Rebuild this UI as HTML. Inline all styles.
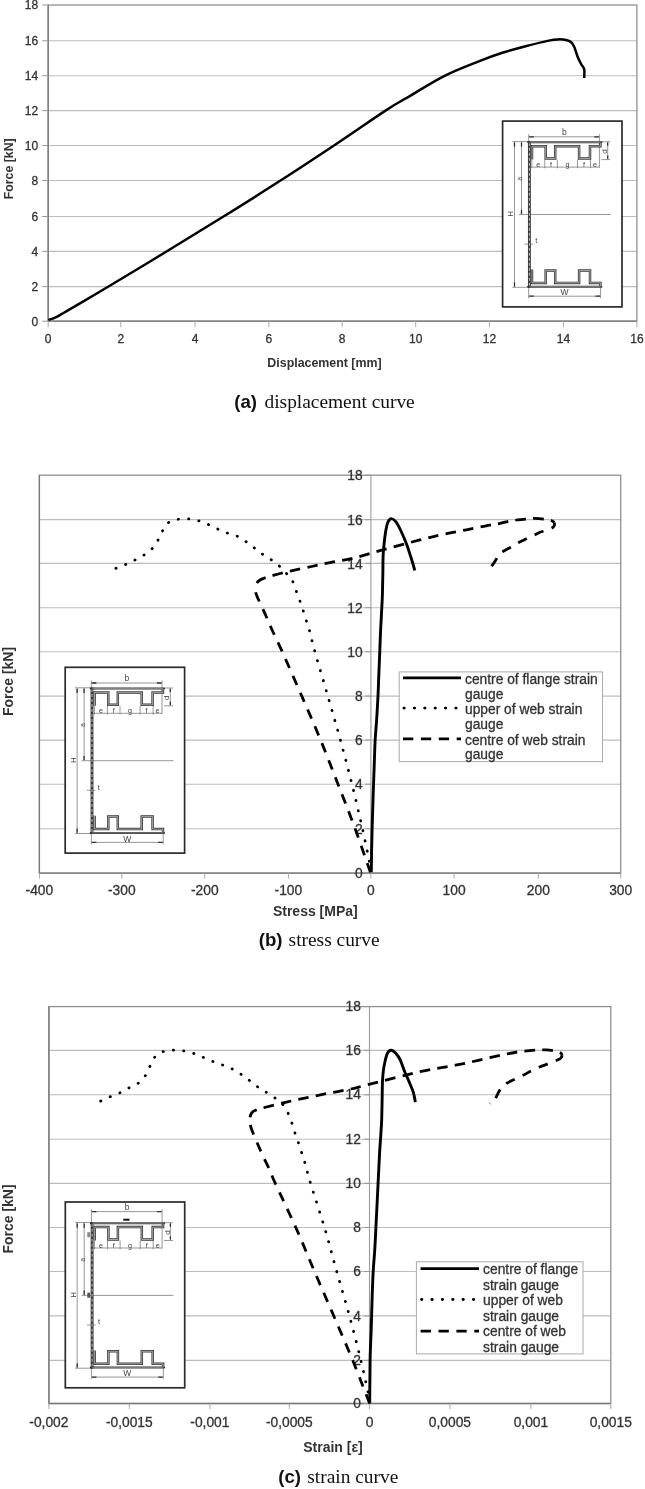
<!DOCTYPE html>
<html><head><meta charset="utf-8"><style>
html,body{margin:0;padding:0;background:#fff;}
svg{display:block;will-change:transform;}
</style></head><body>
<svg width="645" height="1489" viewBox="0 0 645 1489">
<rect width="645" height="1489" fill="#fff"/>
<line x1="48.2" y1="286.6" x2="636.9" y2="286.6" stroke="#bcbcbc" stroke-width="1.1"/>
<line x1="48.2" y1="251.4" x2="636.9" y2="251.4" stroke="#bcbcbc" stroke-width="1.1"/>
<line x1="48.2" y1="216.5" x2="636.9" y2="216.5" stroke="#bcbcbc" stroke-width="1.1"/>
<line x1="48.2" y1="180.5" x2="636.9" y2="180.5" stroke="#bcbcbc" stroke-width="1.1"/>
<line x1="48.2" y1="145.5" x2="636.9" y2="145.5" stroke="#bcbcbc" stroke-width="1.1"/>
<line x1="48.2" y1="110.6" x2="636.9" y2="110.6" stroke="#bcbcbc" stroke-width="1.1"/>
<line x1="48.2" y1="75.7" x2="636.9" y2="75.7" stroke="#bcbcbc" stroke-width="1.1"/>
<line x1="48.2" y1="40.8" x2="636.9" y2="40.8" stroke="#bcbcbc" stroke-width="1.1"/>
<rect x="48.2" y="5.0" width="588.7" height="316.2" fill="none" stroke="#909090" stroke-width="1.3"/>
<path d="M48.2,5.0 V321.2 H636.9" fill="none" stroke="#7a7a7a" stroke-width="1.3"/>
<line x1="48.2" y1="321.2" x2="48.2" y2="327.2" stroke="#aaa" stroke-width="1"/>
<text x="48.2" y="342.5" font-family="Liberation Sans" font-size="12" font-weight="normal" text-anchor="middle" fill="#333" stroke="#333" stroke-width="0.3" >0</text>
<line x1="120.8" y1="321.2" x2="120.8" y2="327.2" stroke="#aaa" stroke-width="1"/>
<text x="120.8" y="342.5" font-family="Liberation Sans" font-size="12" font-weight="normal" text-anchor="middle" fill="#333" stroke="#333" stroke-width="0.3" >2</text>
<line x1="195.0" y1="321.2" x2="195.0" y2="327.2" stroke="#aaa" stroke-width="1"/>
<text x="195.0" y="342.5" font-family="Liberation Sans" font-size="12" font-weight="normal" text-anchor="middle" fill="#333" stroke="#333" stroke-width="0.3" >4</text>
<line x1="268.9" y1="321.2" x2="268.9" y2="327.2" stroke="#aaa" stroke-width="1"/>
<text x="268.9" y="342.5" font-family="Liberation Sans" font-size="12" font-weight="normal" text-anchor="middle" fill="#333" stroke="#333" stroke-width="0.3" >6</text>
<line x1="342.2" y1="321.2" x2="342.2" y2="327.2" stroke="#aaa" stroke-width="1"/>
<text x="342.2" y="342.5" font-family="Liberation Sans" font-size="12" font-weight="normal" text-anchor="middle" fill="#333" stroke="#333" stroke-width="0.3" >8</text>
<line x1="415.7" y1="321.2" x2="415.7" y2="327.2" stroke="#aaa" stroke-width="1"/>
<text x="415.7" y="342.5" font-family="Liberation Sans" font-size="12" font-weight="normal" text-anchor="middle" fill="#333" stroke="#333" stroke-width="0.3" >10</text>
<line x1="489.4" y1="321.2" x2="489.4" y2="327.2" stroke="#aaa" stroke-width="1"/>
<text x="489.4" y="342.5" font-family="Liberation Sans" font-size="12" font-weight="normal" text-anchor="middle" fill="#333" stroke="#333" stroke-width="0.3" >12</text>
<line x1="563.4" y1="321.2" x2="563.4" y2="327.2" stroke="#aaa" stroke-width="1"/>
<text x="563.4" y="342.5" font-family="Liberation Sans" font-size="12" font-weight="normal" text-anchor="middle" fill="#333" stroke="#333" stroke-width="0.3" >14</text>
<line x1="636.9" y1="321.2" x2="636.9" y2="327.2" stroke="#aaa" stroke-width="1"/>
<text x="636.9" y="342.5" font-family="Liberation Sans" font-size="12" font-weight="normal" text-anchor="middle" fill="#333" stroke="#333" stroke-width="0.3" >16</text>
<line x1="42.2" y1="321.2" x2="48.2" y2="321.2" stroke="#999" stroke-width="1"/>
<text x="38.2" y="325.5" font-family="Liberation Sans" font-size="12" font-weight="normal" text-anchor="end" fill="#333" stroke="#333" stroke-width="0.3" >0</text>
<line x1="42.2" y1="286.6" x2="48.2" y2="286.6" stroke="#999" stroke-width="1"/>
<text x="38.2" y="290.9" font-family="Liberation Sans" font-size="12" font-weight="normal" text-anchor="end" fill="#333" stroke="#333" stroke-width="0.3" >2</text>
<line x1="42.2" y1="251.4" x2="48.2" y2="251.4" stroke="#999" stroke-width="1"/>
<text x="38.2" y="255.7" font-family="Liberation Sans" font-size="12" font-weight="normal" text-anchor="end" fill="#333" stroke="#333" stroke-width="0.3" >4</text>
<line x1="42.2" y1="216.5" x2="48.2" y2="216.5" stroke="#999" stroke-width="1"/>
<text x="38.2" y="220.8" font-family="Liberation Sans" font-size="12" font-weight="normal" text-anchor="end" fill="#333" stroke="#333" stroke-width="0.3" >6</text>
<line x1="42.2" y1="180.5" x2="48.2" y2="180.5" stroke="#999" stroke-width="1"/>
<text x="38.2" y="184.8" font-family="Liberation Sans" font-size="12" font-weight="normal" text-anchor="end" fill="#333" stroke="#333" stroke-width="0.3" >8</text>
<line x1="42.2" y1="145.5" x2="48.2" y2="145.5" stroke="#999" stroke-width="1"/>
<text x="38.2" y="149.8" font-family="Liberation Sans" font-size="12" font-weight="normal" text-anchor="end" fill="#333" stroke="#333" stroke-width="0.3" >10</text>
<line x1="42.2" y1="110.6" x2="48.2" y2="110.6" stroke="#999" stroke-width="1"/>
<text x="38.2" y="114.9" font-family="Liberation Sans" font-size="12" font-weight="normal" text-anchor="end" fill="#333" stroke="#333" stroke-width="0.3" >12</text>
<line x1="42.2" y1="75.7" x2="48.2" y2="75.7" stroke="#999" stroke-width="1"/>
<text x="38.2" y="80.0" font-family="Liberation Sans" font-size="12" font-weight="normal" text-anchor="end" fill="#333" stroke="#333" stroke-width="0.3" >14</text>
<line x1="42.2" y1="40.8" x2="48.2" y2="40.8" stroke="#999" stroke-width="1"/>
<text x="38.2" y="45.1" font-family="Liberation Sans" font-size="12" font-weight="normal" text-anchor="end" fill="#333" stroke="#333" stroke-width="0.3" >16</text>
<line x1="42.2" y1="5.0" x2="48.2" y2="5.0" stroke="#999" stroke-width="1"/>
<text x="38.2" y="9.3" font-family="Liberation Sans" font-size="12" font-weight="normal" text-anchor="end" fill="#333" stroke="#333" stroke-width="0.3" >18</text>
<text x="324.5" y="367.2" font-family="Liberation Sans" font-size="12.4" font-weight="bold" text-anchor="middle" fill="#333" >Displacement [mm]</text>
<text x="0.0" y="0.0" font-family="Liberation Sans" font-size="12.3" font-weight="bold" text-anchor="middle" fill="#333" transform="translate(12.8,168.8) rotate(-90)">Force [kN]</text>
<path d="M48.4,319.9 C49.0,319.7 50.6,319.4 52.0,318.9 C53.4,318.4 55.1,317.7 56.7,316.9 C58.3,316.1 59.6,315.3 61.5,314.2 C63.4,313.1 65.0,312.1 67.9,310.4 C70.8,308.7 72.3,307.9 79.1,303.9 C85.9,299.9 94.2,295.1 108.9,286.3 C123.6,277.5 148.1,262.7 167.3,251.0 C186.5,239.3 205.5,227.7 224.3,216.0 C243.1,204.3 261.8,192.6 280.1,180.8 C298.4,169.1 316.4,157.2 334.0,145.5 C351.6,133.8 372.7,119.0 385.5,110.6 C398.3,102.2 401.1,101.1 411.0,95.3 C420.9,89.5 433.6,81.3 445.1,75.6 C456.6,69.9 470.5,64.7 480.0,60.9 C489.5,57.1 494.6,55.3 502.3,52.8 C510.1,50.3 518.8,48.0 526.5,46.0 C534.2,44.0 543.5,41.7 548.8,40.6 C554.1,39.5 555.2,39.5 558.1,39.4 C561.0,39.3 563.8,39.5 566.0,40.0 C568.2,40.5 569.8,41.1 571.2,42.3 C572.6,43.5 573.2,44.5 574.3,47.0 C575.4,49.5 576.5,54.1 577.7,57.0 C578.9,59.9 580.3,62.5 581.4,64.5 C582.5,66.5 583.7,67.0 584.2,69.3 C584.7,71.5 584.2,76.5 584.2,78.0" fill="none" stroke="#000" stroke-width="2.5" stroke-linejoin="round" stroke-linecap="butt"/>
<g transform="translate(501.8,120.3)">
<rect x="0.8" y="0.8" width="119.4" height="185.8" fill="#fff" stroke="#2a2a2a" stroke-width="1.7"/>
<path d="M26.9,16.5 H97.6 M26.9,14.0 V21 M97.6,14.0 V47.5" stroke="#6a6a6a" stroke-width="0.7" fill="none"/>
<path d="M105.9,21.7 V39 M99.5,21.5 H108.5 M99.5,39.3 H108.5" stroke="#6a6a6a" stroke-width="0.7" fill="none"/>
<path d="M29.5,46.8 H97.6 M43,39.5 V48 M55.6,39.5 V48 M75.7,39.5 V48 M88.7,39.5 V48 M30,39.5 V48" stroke="#6a6a6a" stroke-width="0.7" fill="none"/>
<path d="M19.7,21.5 V94.2 M12.7,21.5 V167 M10.5,21.3 H27 M10.5,167 H27 M17.2,94.2 H109" stroke="#6a6a6a" stroke-width="0.7" fill="none"/>
<path d="M26.9,175.9 H98.8 M26.9,167 V178 M98.8,167 V178 M22.5,123.8 H31.1" stroke="#6a6a6a" stroke-width="0.7" fill="none"/>
<path d="M27.5,16.5 H32 M97,16.5 H92.5 M27.5,175.9 H32 M98.2,175.9 H93.7 M19.7,22.3 V26.5 M19.7,93.6 V89.4 M12.7,22.3 V26.5 M12.7,166.3 V162 M105.9,22.3 V25.5 M105.9,38.4 V35.2" stroke="#333" stroke-width="1.3" fill="none"/>
<path d="M27.6,21 V167.4" fill="none" stroke="#3a3a3a" stroke-width="2.9"/>
<path d="M27.6,22.5 V166" fill="none" stroke="#c8c8c8" stroke-width="0.9" stroke-dasharray="3 2"/>
<path d="M26.3,22.0 H99.6" fill="none" stroke="#333" stroke-width="2.0" stroke-linecap="round"/>
<path d="M28,22.0 H98.8" fill="none" stroke="#b8b8b8" stroke-width="0.6"/>
<path d="M26.3,166.4 H99.6" fill="none" stroke="#333" stroke-width="2.0" stroke-linecap="round"/>
<path d="M28,166.4 H98.8" fill="none" stroke="#b8b8b8" stroke-width="0.6"/>
<path d="M30.2,39.2 V25.9 H43.9 V38.3 H53.4 V25.9 H77.3 V38.3 H88.2 V25.9 H98.6 V22.5" fill="none" stroke="#383838" stroke-width="2.5" stroke-linejoin="miter"/>
<path d="M30.2,39.2 V25.9 H43.9 V38.3 H53.4 V25.9 H77.3 V38.3 H88.2 V25.9 H98.6 V22.5" fill="none" stroke="#c4c4c4" stroke-width="0.8" stroke-linejoin="miter"/>
<path d="M30.2,149.2 V162.6 H43.9 V150.1 H53.4 V162.6 H77.3 V150.1 H88.2 V162.6 H98.6 V166" fill="none" stroke="#383838" stroke-width="2.5" stroke-linejoin="miter"/>
<path d="M30.2,149.2 V162.6 H43.9 V150.1 H53.4 V162.6 H77.3 V150.1 H88.2 V162.6 H98.6 V166" fill="none" stroke="#c4c4c4" stroke-width="0.8" stroke-linejoin="miter"/>
<text x="62.6" y="14.9" font-family="Liberation Sans" fill="#444" text-anchor="middle" font-size="8.5">b</text>
<text x="36.5" y="46.6" font-family="Liberation Sans" fill="#444" text-anchor="middle" font-size="7.2">e</text>
<text x="49.3" y="46.6" font-family="Liberation Sans" fill="#444" text-anchor="middle" font-size="7.2">f</text>
<text x="65.6" y="46.6" font-family="Liberation Sans" fill="#444" text-anchor="middle" font-size="7.2">g</text>
<text x="82.2" y="46.6" font-family="Liberation Sans" fill="#444" text-anchor="middle" font-size="7.2">f</text>
<text x="93.2" y="46.6" font-family="Liberation Sans" fill="#444" text-anchor="middle" font-size="7.2">e</text>
<text x="62.8" y="175.2" font-family="Liberation Sans" fill="#444" text-anchor="middle" font-size="8.5">W</text>
<text x="34.5" y="123" font-family="Liberation Sans" fill="#444" text-anchor="middle" font-size="7.5">t</text>
<text font-family="Liberation Sans" fill="#444" text-anchor="middle" font-size="8" transform="translate(105,31.3) rotate(-90)">d</text>
<text font-family="Liberation Sans" fill="#444" text-anchor="middle" font-size="6.5" transform="translate(20.3,58.5) rotate(-90)">a</text>
<text font-family="Liberation Sans" fill="#444" text-anchor="middle" font-size="8" transform="translate(11.2,93.6) rotate(-90)">H</text>
</g>
<text x="234.3" y="408.4" font-family="Liberation Sans" font-weight="bold" font-size="18.6" fill="#111">(a)</text>
<text x="264.5" y="408.4" font-family="Liberation Serif" font-size="19.4" fill="#111">displacement curve</text>
<line x1="39.4" y1="828.7" x2="620.7" y2="828.7" stroke="#bcbcbc" stroke-width="1.1"/>
<line x1="39.4" y1="784.2" x2="620.7" y2="784.2" stroke="#bcbcbc" stroke-width="1.1"/>
<line x1="39.4" y1="740.1" x2="620.7" y2="740.1" stroke="#bcbcbc" stroke-width="1.1"/>
<line x1="39.4" y1="696.1" x2="620.7" y2="696.1" stroke="#bcbcbc" stroke-width="1.1"/>
<line x1="39.4" y1="651.7" x2="620.7" y2="651.7" stroke="#bcbcbc" stroke-width="1.1"/>
<line x1="39.4" y1="607.7" x2="620.7" y2="607.7" stroke="#bcbcbc" stroke-width="1.1"/>
<line x1="39.4" y1="563.4" x2="620.7" y2="563.4" stroke="#bcbcbc" stroke-width="1.1"/>
<line x1="39.4" y1="519.6" x2="620.7" y2="519.6" stroke="#bcbcbc" stroke-width="1.1"/>
<rect x="39.4" y="475.2" width="581.3" height="397.9" fill="none" stroke="#909090" stroke-width="1.3"/>
<path d="M39.4,475.2 V873.1 H620.7" fill="none" stroke="#7a7a7a" stroke-width="1.3"/>
<line x1="370.9" y1="475.2" x2="370.9" y2="873.1" stroke="#9a9a9a" stroke-width="1.1"/>
<line x1="39.4" y1="873.1" x2="39.4" y2="878.6" stroke="#aaa" stroke-width="1"/>
<text x="39.4" y="894.9" font-family="Liberation Sans" font-size="13.8" font-weight="normal" text-anchor="middle" fill="#333" stroke="#333" stroke-width="0.3" >-400</text>
<line x1="121.8" y1="873.1" x2="121.8" y2="878.6" stroke="#aaa" stroke-width="1"/>
<text x="121.8" y="894.9" font-family="Liberation Sans" font-size="13.8" font-weight="normal" text-anchor="middle" fill="#333" stroke="#333" stroke-width="0.3" >-300</text>
<line x1="204.8" y1="873.1" x2="204.8" y2="878.6" stroke="#aaa" stroke-width="1"/>
<text x="204.8" y="894.9" font-family="Liberation Sans" font-size="13.8" font-weight="normal" text-anchor="middle" fill="#333" stroke="#333" stroke-width="0.3" >-200</text>
<line x1="288.4" y1="873.1" x2="288.4" y2="878.6" stroke="#aaa" stroke-width="1"/>
<text x="288.4" y="894.9" font-family="Liberation Sans" font-size="13.8" font-weight="normal" text-anchor="middle" fill="#333" stroke="#333" stroke-width="0.3" >-100</text>
<line x1="370.9" y1="873.1" x2="370.9" y2="878.6" stroke="#aaa" stroke-width="1"/>
<text x="370.9" y="894.9" font-family="Liberation Sans" font-size="13.8" font-weight="normal" text-anchor="middle" fill="#333" stroke="#333" stroke-width="0.3" >0</text>
<line x1="454.1" y1="873.1" x2="454.1" y2="878.6" stroke="#aaa" stroke-width="1"/>
<text x="454.1" y="894.9" font-family="Liberation Sans" font-size="13.8" font-weight="normal" text-anchor="middle" fill="#333" stroke="#333" stroke-width="0.3" >100</text>
<line x1="538.3" y1="873.1" x2="538.3" y2="878.6" stroke="#aaa" stroke-width="1"/>
<text x="538.3" y="894.9" font-family="Liberation Sans" font-size="13.8" font-weight="normal" text-anchor="middle" fill="#333" stroke="#333" stroke-width="0.3" >200</text>
<line x1="620.7" y1="873.1" x2="620.7" y2="878.6" stroke="#aaa" stroke-width="1"/>
<text x="620.7" y="894.9" font-family="Liberation Sans" font-size="13.8" font-weight="normal" text-anchor="middle" fill="#333" stroke="#333" stroke-width="0.3" >300</text>
<line x1="365.4" y1="873.1" x2="370.9" y2="873.1" stroke="#999" stroke-width="1"/>
<text x="362.6" y="878.3" font-family="Liberation Sans" font-size="13.8" font-weight="normal" text-anchor="end" fill="#333" stroke="#333" stroke-width="0.3" >0</text>
<line x1="365.4" y1="828.7" x2="370.9" y2="828.7" stroke="#999" stroke-width="1"/>
<text x="362.6" y="833.9" font-family="Liberation Sans" font-size="13.8" font-weight="normal" text-anchor="end" fill="#333" stroke="#333" stroke-width="0.3" >2</text>
<line x1="365.4" y1="784.2" x2="370.9" y2="784.2" stroke="#999" stroke-width="1"/>
<text x="362.6" y="789.4" font-family="Liberation Sans" font-size="13.8" font-weight="normal" text-anchor="end" fill="#333" stroke="#333" stroke-width="0.3" >4</text>
<line x1="365.4" y1="740.1" x2="370.9" y2="740.1" stroke="#999" stroke-width="1"/>
<text x="362.6" y="745.3" font-family="Liberation Sans" font-size="13.8" font-weight="normal" text-anchor="end" fill="#333" stroke="#333" stroke-width="0.3" >6</text>
<line x1="365.4" y1="696.1" x2="370.9" y2="696.1" stroke="#999" stroke-width="1"/>
<text x="362.6" y="701.3" font-family="Liberation Sans" font-size="13.8" font-weight="normal" text-anchor="end" fill="#333" stroke="#333" stroke-width="0.3" >8</text>
<line x1="365.4" y1="651.7" x2="370.9" y2="651.7" stroke="#999" stroke-width="1"/>
<text x="362.6" y="656.9" font-family="Liberation Sans" font-size="13.8" font-weight="normal" text-anchor="end" fill="#333" stroke="#333" stroke-width="0.3" >10</text>
<line x1="365.4" y1="607.7" x2="370.9" y2="607.7" stroke="#999" stroke-width="1"/>
<text x="362.6" y="612.9" font-family="Liberation Sans" font-size="13.8" font-weight="normal" text-anchor="end" fill="#333" stroke="#333" stroke-width="0.3" >12</text>
<line x1="365.4" y1="563.4" x2="370.9" y2="563.4" stroke="#999" stroke-width="1"/>
<text x="362.6" y="568.6" font-family="Liberation Sans" font-size="13.8" font-weight="normal" text-anchor="end" fill="#333" stroke="#333" stroke-width="0.3" >14</text>
<line x1="365.4" y1="519.6" x2="370.9" y2="519.6" stroke="#999" stroke-width="1"/>
<text x="362.6" y="524.8" font-family="Liberation Sans" font-size="13.8" font-weight="normal" text-anchor="end" fill="#333" stroke="#333" stroke-width="0.3" >16</text>
<line x1="365.4" y1="475.2" x2="370.9" y2="475.2" stroke="#999" stroke-width="1"/>
<text x="362.6" y="480.4" font-family="Liberation Sans" font-size="13.8" font-weight="normal" text-anchor="end" fill="#333" stroke="#333" stroke-width="0.3" >18</text>
<text x="315.3" y="916.1" font-family="Liberation Sans" font-size="14" font-weight="bold" text-anchor="middle" fill="#333" >Stress [MPa]</text>
<text x="0.0" y="0.0" font-family="Liberation Sans" font-size="14" font-weight="bold" text-anchor="middle" fill="#333" transform="translate(12.6,681.5) rotate(-90)">Force [kN]</text>
<g transform="translate(64.4,666.5)">
<rect x="0.8" y="0.8" width="119.4" height="185.8" fill="#fff" stroke="#2a2a2a" stroke-width="1.7"/>
<path d="M26.9,16.5 H97.6 M26.9,14.0 V21 M97.6,14.0 V47.5" stroke="#6a6a6a" stroke-width="0.7" fill="none"/>
<path d="M105.9,21.7 V39 M99.5,21.5 H108.5 M99.5,39.3 H108.5" stroke="#6a6a6a" stroke-width="0.7" fill="none"/>
<path d="M29.5,46.8 H97.6 M43,39.5 V48 M55.6,39.5 V48 M75.7,39.5 V48 M88.7,39.5 V48 M30,39.5 V48" stroke="#6a6a6a" stroke-width="0.7" fill="none"/>
<path d="M19.7,21.5 V94.2 M12.7,21.5 V167 M10.5,21.3 H27 M10.5,167 H27 M17.2,94.2 H109" stroke="#6a6a6a" stroke-width="0.7" fill="none"/>
<path d="M26.9,175.9 H98.8 M26.9,167 V178 M98.8,167 V178 M22.5,123.8 H31.1" stroke="#6a6a6a" stroke-width="0.7" fill="none"/>
<path d="M27.5,16.5 H32 M97,16.5 H92.5 M27.5,175.9 H32 M98.2,175.9 H93.7 M19.7,22.3 V26.5 M19.7,93.6 V89.4 M12.7,22.3 V26.5 M12.7,166.3 V162 M105.9,22.3 V25.5 M105.9,38.4 V35.2" stroke="#333" stroke-width="1.3" fill="none"/>
<path d="M27.6,21 V167.4" fill="none" stroke="#3a3a3a" stroke-width="2.9"/>
<path d="M27.6,22.5 V166" fill="none" stroke="#c8c8c8" stroke-width="0.9" stroke-dasharray="3 2"/>
<path d="M26.3,22.0 H99.6" fill="none" stroke="#333" stroke-width="2.0" stroke-linecap="round"/>
<path d="M28,22.0 H98.8" fill="none" stroke="#b8b8b8" stroke-width="0.6"/>
<path d="M26.3,166.4 H99.6" fill="none" stroke="#333" stroke-width="2.0" stroke-linecap="round"/>
<path d="M28,166.4 H98.8" fill="none" stroke="#b8b8b8" stroke-width="0.6"/>
<path d="M30.2,39.2 V25.9 H43.9 V38.3 H53.4 V25.9 H77.3 V38.3 H88.2 V25.9 H98.6 V22.5" fill="none" stroke="#383838" stroke-width="2.5" stroke-linejoin="miter"/>
<path d="M30.2,39.2 V25.9 H43.9 V38.3 H53.4 V25.9 H77.3 V38.3 H88.2 V25.9 H98.6 V22.5" fill="none" stroke="#c4c4c4" stroke-width="0.8" stroke-linejoin="miter"/>
<path d="M30.2,149.2 V162.6 H43.9 V150.1 H53.4 V162.6 H77.3 V150.1 H88.2 V162.6 H98.6 V166" fill="none" stroke="#383838" stroke-width="2.5" stroke-linejoin="miter"/>
<path d="M30.2,149.2 V162.6 H43.9 V150.1 H53.4 V162.6 H77.3 V150.1 H88.2 V162.6 H98.6 V166" fill="none" stroke="#c4c4c4" stroke-width="0.8" stroke-linejoin="miter"/>
<text x="62.6" y="14.9" font-family="Liberation Sans" fill="#444" text-anchor="middle" font-size="8.5">b</text>
<text x="36.5" y="46.6" font-family="Liberation Sans" fill="#444" text-anchor="middle" font-size="7.2">e</text>
<text x="49.3" y="46.6" font-family="Liberation Sans" fill="#444" text-anchor="middle" font-size="7.2">f</text>
<text x="65.6" y="46.6" font-family="Liberation Sans" fill="#444" text-anchor="middle" font-size="7.2">g</text>
<text x="82.2" y="46.6" font-family="Liberation Sans" fill="#444" text-anchor="middle" font-size="7.2">f</text>
<text x="93.2" y="46.6" font-family="Liberation Sans" fill="#444" text-anchor="middle" font-size="7.2">e</text>
<text x="62.8" y="175.2" font-family="Liberation Sans" fill="#444" text-anchor="middle" font-size="8.5">W</text>
<text x="34.5" y="123" font-family="Liberation Sans" fill="#444" text-anchor="middle" font-size="7.5">t</text>
<text font-family="Liberation Sans" fill="#444" text-anchor="middle" font-size="8" transform="translate(105,31.3) rotate(-90)">d</text>
<text font-family="Liberation Sans" fill="#444" text-anchor="middle" font-size="6.5" transform="translate(20.3,58.5) rotate(-90)">a</text>
<text font-family="Liberation Sans" fill="#444" text-anchor="middle" font-size="8" transform="translate(11.2,93.6) rotate(-90)">H</text>
</g>
<rect x="399.2" y="671.9" width="203.3" height="89.7" fill="#fff" stroke="#aaa" stroke-width="1"/>
<line x1="403.0" y1="677.8" x2="461.0" y2="677.8" stroke="#000" stroke-width="2.8" />
<text x="465.0" y="683.9" font-family="Liberation Sans" font-size="13.8" font-weight="normal" text-anchor="start" fill="#333" stroke="#333" stroke-width="0.3" >centre of flange strain</text>
<text x="465.0" y="698.9" font-family="Liberation Sans" font-size="13.8" font-weight="normal" text-anchor="start" fill="#333" stroke="#333" stroke-width="0.3" >gauge</text>
<line x1="403.0" y1="708.1" x2="461.0" y2="708.1" stroke="#000" stroke-width="2.8" stroke-dasharray="0.4 9.97" stroke-linecap="round" stroke-dashoffset="-0.9"/>
<text x="465.0" y="714.4" font-family="Liberation Sans" font-size="13.8" font-weight="normal" text-anchor="start" fill="#333" stroke="#333" stroke-width="0.3" >upper of web strain</text>
<text x="465.0" y="729.4" font-family="Liberation Sans" font-size="13.8" font-weight="normal" text-anchor="start" fill="#333" stroke="#333" stroke-width="0.3" >gauge</text>
<line x1="403.0" y1="738.9" x2="461.0" y2="738.9" stroke="#000" stroke-width="2.8" stroke-dasharray="10.3 7.6"/>
<text x="465.0" y="745.0" font-family="Liberation Sans" font-size="13.8" font-weight="normal" text-anchor="start" fill="#333" stroke="#333" stroke-width="0.3" >centre of web strain</text>
<text x="465.0" y="759.4" font-family="Liberation Sans" font-size="13.8" font-weight="normal" text-anchor="start" fill="#333" stroke="#333" stroke-width="0.3" >gauge</text>
<path d="M491.6,566.3 C492.5,565.0 495.6,560.2 496.7,558.4 C497.8,556.6 497.6,556.6 498.5,555.5 C499.4,554.4 500.3,553.3 502.3,551.9 C504.3,550.5 508.1,548.7 510.7,547.2 C513.3,545.7 515.1,544.4 517.7,543.0 C520.3,541.6 523.7,540.1 526.5,538.8 C529.3,537.5 532.1,536.2 534.4,535.1 C536.6,534.0 537.9,533.1 540.0,532.3 C542.1,531.5 545.0,530.9 547.0,530.2 C549.0,529.5 550.8,528.8 552.0,528.0 C553.2,527.2 553.9,526.5 554.3,525.6 C554.7,524.7 554.4,523.1 554.4,522.6" fill="none" stroke="#000" stroke-width="2.8" stroke-dasharray="9.6 8.6" stroke-dashoffset="0" stroke-linejoin="round"/>
<path d="M370.4,872.3 C367.8,864.9 360.3,842.8 354.9,828.1 C349.5,813.5 343.8,799.1 338.1,784.4 C332.4,769.7 326.5,754.5 320.5,739.8 C314.5,725.1 308.3,711.1 301.9,696.4 C295.5,681.7 287.3,662.9 282.3,651.8 C277.3,640.7 274.8,636.0 272.1,630.0 C269.4,624.0 268.5,621.7 266.0,616.0 C263.5,610.3 258.7,600.6 256.9,596.0 C255.1,591.4 255.3,589.8 255.0,588.5" fill="none" stroke="#000" stroke-width="2.8" stroke-dasharray="9.9 8.4" stroke-dashoffset="0" stroke-linejoin="round"/>
<path d="M255.0,588.5 C255.2,587.6 255.7,584.7 256.5,583.3 C257.3,581.9 258.7,580.9 260.0,580.0 C261.3,579.1 262.8,578.6 264.5,578.0 C266.2,577.4 267.8,577.0 270.4,576.2 C273.0,575.5 276.8,574.3 280.0,573.5 C283.2,572.7 284.6,572.4 289.9,571.2 C295.2,570.0 304.7,568.0 311.6,566.5 C318.5,565.0 324.3,563.8 331.2,562.4 C338.1,561.0 344.8,560.3 352.9,558.3 C361.0,556.3 368.8,553.7 380.0,550.6 C391.2,547.5 409.4,542.6 420.0,539.9 C430.6,537.2 435.6,536.0 443.3,534.3 C451.1,532.6 458.8,531.3 466.5,529.8 C474.2,528.3 484.4,526.1 489.8,525.1 C495.2,524.1 496.0,524.3 499.2,523.6 C502.4,522.9 506.2,521.7 509.2,521.1 C512.2,520.5 514.2,520.2 517.2,519.9 C520.2,519.5 523.9,519.2 526.9,519.0 C529.9,518.8 532.1,518.4 535.2,518.4 C538.3,518.4 542.8,518.9 545.5,519.3 C548.2,519.6 549.8,520.0 551.3,520.5 C552.8,521.0 553.9,522.2 554.4,522.6" fill="none" stroke="#000" stroke-width="2.8" stroke-dasharray="10.5 7.3" stroke-dashoffset="11.951710991622079" stroke-linejoin="round"/>
<path d="M114.0,569.1 C115.7,568.4 121.0,566.5 124.2,565.1 C127.5,563.7 130.4,562.3 133.5,560.8 C136.6,559.2 139.9,557.7 142.8,555.8 C145.8,553.9 148.8,552.0 151.2,549.6 C153.6,547.2 155.6,544.2 157.4,541.2 C159.2,538.2 160.3,534.9 162.0,531.9 C163.7,528.9 165.1,525.4 167.6,523.3 C170.1,521.2 173.6,520.2 176.9,519.5 C180.2,518.8 184.0,518.6 187.4,518.8 C190.8,519.0 194.3,519.6 197.6,520.5 C200.9,521.4 204.1,522.6 207.3,524.0 C210.5,525.4 213.6,527.1 216.8,528.6 C220.0,530.1 223.1,531.5 226.3,532.7 C229.5,533.9 233.1,534.3 236.2,535.7 C239.3,537.1 242.2,539.1 245.1,541.0 C248.0,542.9 250.7,545.2 253.4,547.2 C256.1,549.2 258.4,551.3 261.2,553.3 C263.9,555.2 267.0,556.9 269.9,558.9 C272.8,560.9 275.7,562.8 278.3,565.1 C280.9,567.4 283.2,570.0 285.5,572.5 C287.8,575.0 290.4,577.2 292.1,580.2 C293.9,583.2 294.7,587.0 296.0,590.4 C297.3,593.8 298.5,597.0 299.7,600.3 C300.9,603.6 301.9,606.8 303.0,610.1 C304.1,613.4 305.1,617.0 306.2,620.3 C307.2,623.6 307.9,624.8 309.3,630.0 C310.8,635.2 311.8,640.7 314.9,651.8 C318.0,662.9 323.7,681.7 327.9,696.4 C332.1,711.1 336.3,725.1 340.3,739.8 C344.3,754.5 348.3,769.7 352.0,784.4 C355.7,799.1 359.2,814.5 362.3,828.1 C365.4,841.8 369.0,859.9 370.4,866.3" fill="none" stroke="#000" stroke-width="2.75" stroke-dasharray="0.3 10.05" stroke-dashoffset="-2" stroke-linecap="round" stroke-linejoin="round"/>
<path d="M371.3,872.3 C371.4,868.6 371.5,857.8 371.6,850.0 C371.8,842.2 371.9,835.0 372.2,825.6 C372.5,816.2 372.9,803.1 373.2,793.7 C373.5,784.3 373.8,778.0 374.1,769.2 C374.4,760.4 374.7,749.1 375.1,741.0 C375.5,732.9 376.1,727.5 376.6,720.3 C377.1,713.1 377.5,705.3 377.9,697.8 C378.3,690.3 378.5,683.0 378.8,675.2 C379.1,667.4 379.5,658.6 379.8,650.8 C380.1,643.0 380.3,636.7 380.7,628.2 C381.1,619.7 381.8,608.7 382.2,600.0 C382.6,591.3 382.6,583.3 382.8,576.0 C383.0,568.7 382.9,561.5 383.1,556.4 C383.3,551.3 383.5,549.6 383.9,545.6 C384.3,541.6 384.9,536.4 385.5,532.6 C386.1,528.8 386.8,525.1 387.7,522.8 C388.6,520.5 389.5,518.9 390.9,518.7 C392.2,518.5 394.1,519.6 395.8,521.7 C397.5,523.8 399.4,527.7 401.2,531.5 C403.0,535.3 405.1,540.2 406.7,544.5 C408.3,548.8 409.6,553.2 411.0,557.5 C412.4,561.8 414.2,568.3 414.8,570.5" fill="none" stroke="#000" stroke-width="2.9" stroke-linejoin="round"/>
<text x="258.7" y="946.1" font-family="Liberation Sans" font-weight="bold" font-size="18.6" fill="#111">(b)</text>
<text x="288.6" y="946.1" font-family="Liberation Serif" font-size="19.4" fill="#111">stress curve</text>
<line x1="48.9" y1="1360.4" x2="610.8" y2="1360.4" stroke="#bcbcbc" stroke-width="1.1"/>
<line x1="48.9" y1="1315.9" x2="610.8" y2="1315.9" stroke="#bcbcbc" stroke-width="1.1"/>
<line x1="48.9" y1="1271.5" x2="610.8" y2="1271.5" stroke="#bcbcbc" stroke-width="1.1"/>
<line x1="48.9" y1="1227.5" x2="610.8" y2="1227.5" stroke="#bcbcbc" stroke-width="1.1"/>
<line x1="48.9" y1="1183.4" x2="610.8" y2="1183.4" stroke="#bcbcbc" stroke-width="1.1"/>
<line x1="48.9" y1="1139.3" x2="610.8" y2="1139.3" stroke="#bcbcbc" stroke-width="1.1"/>
<line x1="48.9" y1="1094.8" x2="610.8" y2="1094.8" stroke="#bcbcbc" stroke-width="1.1"/>
<line x1="48.9" y1="1050.4" x2="610.8" y2="1050.4" stroke="#bcbcbc" stroke-width="1.1"/>
<rect x="48.9" y="1006.6" width="561.9" height="396.9" fill="none" stroke="#909090" stroke-width="1.3"/>
<path d="M48.9,1006.6 V1403.5 H610.8" fill="none" stroke="#7a7a7a" stroke-width="1.3"/>
<line x1="369.5" y1="1006.6" x2="369.5" y2="1403.5" stroke="#9a9a9a" stroke-width="1.1"/>
<line x1="48.9" y1="1403.5" x2="48.9" y2="1409.0" stroke="#aaa" stroke-width="1"/>
<text x="48.9" y="1427.3" font-family="Liberation Sans" font-size="13.8" font-weight="normal" text-anchor="middle" fill="#333" stroke="#333" stroke-width="0.3" >-0,002</text>
<line x1="129.3" y1="1403.5" x2="129.3" y2="1409.0" stroke="#aaa" stroke-width="1"/>
<text x="129.3" y="1427.3" font-family="Liberation Sans" font-size="13.8" font-weight="normal" text-anchor="middle" fill="#333" stroke="#333" stroke-width="0.3" >-0,0015</text>
<line x1="209.9" y1="1403.5" x2="209.9" y2="1409.0" stroke="#aaa" stroke-width="1"/>
<text x="209.9" y="1427.3" font-family="Liberation Sans" font-size="13.8" font-weight="normal" text-anchor="middle" fill="#333" stroke="#333" stroke-width="0.3" >-0,001</text>
<line x1="289.3" y1="1403.5" x2="289.3" y2="1409.0" stroke="#aaa" stroke-width="1"/>
<text x="289.3" y="1427.3" font-family="Liberation Sans" font-size="13.8" font-weight="normal" text-anchor="middle" fill="#333" stroke="#333" stroke-width="0.3" >-0,0005</text>
<line x1="369.5" y1="1403.5" x2="369.5" y2="1409.0" stroke="#aaa" stroke-width="1"/>
<text x="369.5" y="1427.3" font-family="Liberation Sans" font-size="13.8" font-weight="normal" text-anchor="middle" fill="#333" stroke="#333" stroke-width="0.3" >0</text>
<line x1="449.9" y1="1403.5" x2="449.9" y2="1409.0" stroke="#aaa" stroke-width="1"/>
<text x="449.9" y="1427.3" font-family="Liberation Sans" font-size="13.8" font-weight="normal" text-anchor="middle" fill="#333" stroke="#333" stroke-width="0.3" >0,0005</text>
<line x1="530.9" y1="1403.5" x2="530.9" y2="1409.0" stroke="#aaa" stroke-width="1"/>
<text x="530.9" y="1427.3" font-family="Liberation Sans" font-size="13.8" font-weight="normal" text-anchor="middle" fill="#333" stroke="#333" stroke-width="0.3" >0,001</text>
<line x1="610.8" y1="1403.5" x2="610.8" y2="1409.0" stroke="#aaa" stroke-width="1"/>
<text x="610.8" y="1427.3" font-family="Liberation Sans" font-size="13.8" font-weight="normal" text-anchor="middle" fill="#333" stroke="#333" stroke-width="0.3" >0,0015</text>
<line x1="364.0" y1="1403.5" x2="369.5" y2="1403.5" stroke="#999" stroke-width="1"/>
<text x="360.9" y="1408.1" font-family="Liberation Sans" font-size="13.8" font-weight="normal" text-anchor="end" fill="#333" stroke="#333" stroke-width="0.3" >0</text>
<line x1="364.0" y1="1360.4" x2="369.5" y2="1360.4" stroke="#999" stroke-width="1"/>
<text x="360.9" y="1365.0" font-family="Liberation Sans" font-size="13.8" font-weight="normal" text-anchor="end" fill="#333" stroke="#333" stroke-width="0.3" >2</text>
<line x1="364.0" y1="1315.9" x2="369.5" y2="1315.9" stroke="#999" stroke-width="1"/>
<text x="360.9" y="1320.5" font-family="Liberation Sans" font-size="13.8" font-weight="normal" text-anchor="end" fill="#333" stroke="#333" stroke-width="0.3" >4</text>
<line x1="364.0" y1="1271.5" x2="369.5" y2="1271.5" stroke="#999" stroke-width="1"/>
<text x="360.9" y="1276.1" font-family="Liberation Sans" font-size="13.8" font-weight="normal" text-anchor="end" fill="#333" stroke="#333" stroke-width="0.3" >6</text>
<line x1="364.0" y1="1227.5" x2="369.5" y2="1227.5" stroke="#999" stroke-width="1"/>
<text x="360.9" y="1232.1" font-family="Liberation Sans" font-size="13.8" font-weight="normal" text-anchor="end" fill="#333" stroke="#333" stroke-width="0.3" >8</text>
<line x1="364.0" y1="1183.4" x2="369.5" y2="1183.4" stroke="#999" stroke-width="1"/>
<text x="360.9" y="1188.0" font-family="Liberation Sans" font-size="13.8" font-weight="normal" text-anchor="end" fill="#333" stroke="#333" stroke-width="0.3" >10</text>
<line x1="364.0" y1="1139.3" x2="369.5" y2="1139.3" stroke="#999" stroke-width="1"/>
<text x="360.9" y="1143.9" font-family="Liberation Sans" font-size="13.8" font-weight="normal" text-anchor="end" fill="#333" stroke="#333" stroke-width="0.3" >12</text>
<line x1="364.0" y1="1094.8" x2="369.5" y2="1094.8" stroke="#999" stroke-width="1"/>
<text x="360.9" y="1099.4" font-family="Liberation Sans" font-size="13.8" font-weight="normal" text-anchor="end" fill="#333" stroke="#333" stroke-width="0.3" >14</text>
<line x1="364.0" y1="1050.4" x2="369.5" y2="1050.4" stroke="#999" stroke-width="1"/>
<text x="360.9" y="1055.0" font-family="Liberation Sans" font-size="13.8" font-weight="normal" text-anchor="end" fill="#333" stroke="#333" stroke-width="0.3" >16</text>
<line x1="364.0" y1="1006.6" x2="369.5" y2="1006.6" stroke="#999" stroke-width="1"/>
<text x="360.9" y="1011.2" font-family="Liberation Sans" font-size="13.8" font-weight="normal" text-anchor="end" fill="#333" stroke="#333" stroke-width="0.3" >18</text>
<text x="333.0" y="1451.8" font-family="Liberation Sans" font-size="14" font-weight="bold" text-anchor="middle" fill="#333" >Strain [ε]</text>
<text x="0.0" y="0.0" font-family="Liberation Sans" font-size="14" font-weight="bold" text-anchor="middle" fill="#333" transform="translate(12.6,1219.0) rotate(-90)">Force [kN]</text>
<g transform="translate(64.5,1201.2)">
<rect x="0.8" y="0.8" width="119.4" height="185.8" fill="#fff" stroke="#2a2a2a" stroke-width="1.7"/>
<path d="M26.9,10.4 H97.6 M26.9,7.9 V21 M97.6,7.9 V47.5" stroke="#6a6a6a" stroke-width="0.7" fill="none"/>
<path d="M105.9,21.7 V39 M99.5,21.5 H108.5 M99.5,39.3 H108.5" stroke="#6a6a6a" stroke-width="0.7" fill="none"/>
<path d="M29.5,46.8 H97.6 M43,39.5 V48 M55.6,39.5 V48 M75.7,39.5 V48 M88.7,39.5 V48 M30,39.5 V48" stroke="#6a6a6a" stroke-width="0.7" fill="none"/>
<path d="M19.7,21.5 V94.2 M12.7,21.5 V167 M10.5,21.3 H27 M10.5,167 H27 M17.2,94.2 H109" stroke="#6a6a6a" stroke-width="0.7" fill="none"/>
<path d="M26.9,175.9 H98.8 M26.9,167 V178 M98.8,167 V178 M22.5,123.8 H31.1" stroke="#6a6a6a" stroke-width="0.7" fill="none"/>
<path d="M27.5,10.4 H32 M97,10.4 H92.5 M27.5,175.9 H32 M98.2,175.9 H93.7 M19.7,22.3 V26.5 M19.7,93.6 V89.4 M12.7,22.3 V26.5 M12.7,166.3 V162 M105.9,22.3 V25.5 M105.9,38.4 V35.2" stroke="#333" stroke-width="1.3" fill="none"/>
<path d="M27.6,21 V167.4" fill="none" stroke="#3a3a3a" stroke-width="2.9"/>
<path d="M27.6,22.5 V166" fill="none" stroke="#c8c8c8" stroke-width="0.9" stroke-dasharray="3 2"/>
<path d="M26.3,22.0 H99.6" fill="none" stroke="#333" stroke-width="2.0" stroke-linecap="round"/>
<path d="M28,22.0 H98.8" fill="none" stroke="#b8b8b8" stroke-width="0.6"/>
<path d="M26.3,166.4 H99.6" fill="none" stroke="#333" stroke-width="2.0" stroke-linecap="round"/>
<path d="M28,166.4 H98.8" fill="none" stroke="#b8b8b8" stroke-width="0.6"/>
<path d="M30.2,39.2 V25.9 H43.9 V38.3 H53.4 V25.9 H77.3 V38.3 H88.2 V25.9 H98.6 V22.5" fill="none" stroke="#383838" stroke-width="2.5" stroke-linejoin="miter"/>
<path d="M30.2,39.2 V25.9 H43.9 V38.3 H53.4 V25.9 H77.3 V38.3 H88.2 V25.9 H98.6 V22.5" fill="none" stroke="#c4c4c4" stroke-width="0.8" stroke-linejoin="miter"/>
<path d="M30.2,149.2 V162.6 H43.9 V150.1 H53.4 V162.6 H77.3 V150.1 H88.2 V162.6 H98.6 V166" fill="none" stroke="#383838" stroke-width="2.5" stroke-linejoin="miter"/>
<path d="M30.2,149.2 V162.6 H43.9 V150.1 H53.4 V162.6 H77.3 V150.1 H88.2 V162.6 H98.6 V166" fill="none" stroke="#c4c4c4" stroke-width="0.8" stroke-linejoin="miter"/>
<text x="62.6" y="8.8" font-family="Liberation Sans" fill="#444" text-anchor="middle" font-size="8.5">b</text>
<text x="36.5" y="46.6" font-family="Liberation Sans" fill="#444" text-anchor="middle" font-size="7.2">e</text>
<text x="49.3" y="46.6" font-family="Liberation Sans" fill="#444" text-anchor="middle" font-size="7.2">f</text>
<text x="65.6" y="46.6" font-family="Liberation Sans" fill="#444" text-anchor="middle" font-size="7.2">g</text>
<text x="82.2" y="46.6" font-family="Liberation Sans" fill="#444" text-anchor="middle" font-size="7.2">f</text>
<text x="93.2" y="46.6" font-family="Liberation Sans" fill="#444" text-anchor="middle" font-size="7.2">e</text>
<text x="62.8" y="175.2" font-family="Liberation Sans" fill="#444" text-anchor="middle" font-size="8.5">W</text>
<text x="34.5" y="123" font-family="Liberation Sans" fill="#444" text-anchor="middle" font-size="7.5">t</text>
<text font-family="Liberation Sans" fill="#444" text-anchor="middle" font-size="8" transform="translate(105,31.3) rotate(-90)">d</text>
<text font-family="Liberation Sans" fill="#444" text-anchor="middle" font-size="6.5" transform="translate(20.3,58.5) rotate(-90)">a</text>
<text font-family="Liberation Sans" fill="#444" text-anchor="middle" font-size="8" transform="translate(11.2,93.6) rotate(-90)">H</text>
<rect x="58.8" y="17.5" width="6.2" height="2.0" fill="#111"/>
<rect x="22.8" y="31" width="2.8" height="5" fill="#888"/>
<rect x="22.8" y="91.5" width="2.8" height="5" fill="#555"/>
</g>
<rect x="416.4" y="1261.8" width="166.6" height="92.1" fill="#fff" stroke="#aaa" stroke-width="1"/>
<line x1="420.6" y1="1268.6" x2="479.0" y2="1268.6" stroke="#000" stroke-width="2.8" />
<text x="483.1" y="1274.4" font-family="Liberation Sans" font-size="13.8" font-weight="normal" text-anchor="start" fill="#333" stroke="#333" stroke-width="0.3" >centre of flange</text>
<text x="483.1" y="1289.9" font-family="Liberation Sans" font-size="13.8" font-weight="normal" text-anchor="start" fill="#333" stroke="#333" stroke-width="0.3" >strain gauge</text>
<line x1="420.6" y1="1299.5" x2="479.0" y2="1299.5" stroke="#000" stroke-width="2.8" stroke-dasharray="0.4 9.97" stroke-linecap="round" stroke-dashoffset="-0.9"/>
<text x="483.1" y="1305.4" font-family="Liberation Sans" font-size="13.8" font-weight="normal" text-anchor="start" fill="#333" stroke="#333" stroke-width="0.3" >upper of web</text>
<text x="483.1" y="1320.9" font-family="Liberation Sans" font-size="13.8" font-weight="normal" text-anchor="start" fill="#333" stroke="#333" stroke-width="0.3" >strain gauge</text>
<line x1="420.6" y1="1331.2" x2="479.0" y2="1331.2" stroke="#000" stroke-width="2.8" stroke-dasharray="10.3 7.6"/>
<text x="483.1" y="1336.4" font-family="Liberation Sans" font-size="13.8" font-weight="normal" text-anchor="start" fill="#333" stroke="#333" stroke-width="0.3" >centre of web</text>
<text x="483.1" y="1351.9" font-family="Liberation Sans" font-size="13.8" font-weight="normal" text-anchor="start" fill="#333" stroke="#333" stroke-width="0.3" >strain gauge</text>
<path d="M495.7,1098.2 C496.3,1097.0 498.3,1092.6 499.4,1090.8 C500.4,1089.0 500.8,1088.8 502.0,1087.5 C503.2,1086.2 504.6,1084.7 506.8,1083.3 C509.0,1081.9 512.3,1080.4 515.2,1079.0 C518.1,1077.6 521.6,1076.0 524.2,1074.7 C526.8,1073.4 528.5,1072.2 531.0,1070.9 C533.5,1069.7 536.2,1068.4 539.1,1067.2 C542.0,1066.0 545.1,1064.9 548.3,1063.6 C551.5,1062.3 556.4,1060.5 558.5,1059.5 C560.6,1058.5 560.4,1058.5 561.0,1057.8 C561.6,1057.1 562.1,1055.6 562.3,1055.2" fill="none" stroke="#000" stroke-width="2.8" stroke-dasharray="9.6 8.6" stroke-dashoffset="0" stroke-linejoin="round"/>
<path d="M369.6,1403.4 C366.8,1396.3 358.8,1375.2 352.8,1360.6 C346.8,1346.0 340.1,1330.6 333.7,1315.8 C327.3,1301.0 320.8,1286.2 314.5,1271.5 C308.2,1256.8 302.6,1242.6 296.0,1227.9 C289.4,1213.2 279.7,1193.1 275.2,1183.2 C270.7,1173.3 271.6,1174.3 269.1,1168.8 C266.6,1163.3 263.3,1156.9 260.4,1150.3 C257.5,1143.7 253.3,1134.2 251.5,1129.0 C249.7,1123.8 249.7,1120.7 249.3,1119.0" fill="none" stroke="#000" stroke-width="2.8" stroke-dasharray="9.9 8.4" stroke-dashoffset="0" stroke-linejoin="round"/>
<path d="M249.3,1119.0 C249.7,1118.0 250.6,1114.3 251.7,1112.8 C252.8,1111.3 254.2,1110.8 256.0,1110.0 C257.8,1109.2 257.9,1109.2 262.6,1108.0 C267.3,1106.8 277.1,1104.3 284.3,1102.6 C291.5,1100.9 298.8,1099.3 306.0,1097.8 C313.2,1096.3 320.5,1094.8 327.7,1093.4 C334.9,1092.0 342.3,1090.8 349.4,1089.3 C356.4,1087.8 358.2,1087.0 370.0,1084.1 C381.8,1081.2 407.5,1074.5 420.0,1071.7 C432.5,1068.9 436.5,1068.8 444.8,1067.2 C453.1,1065.6 461.3,1064.1 469.6,1062.3 C477.9,1060.5 487.9,1058.0 494.4,1056.6 C500.9,1055.1 504.0,1054.5 508.6,1053.6 C513.2,1052.7 517.3,1051.9 522.0,1051.3 C526.7,1050.7 532.6,1050.3 536.6,1050.1 C540.6,1049.9 543.0,1049.8 546.0,1049.9 C549.0,1050.0 552.1,1050.3 554.5,1050.8 C556.9,1051.3 559.0,1052.1 560.3,1052.8 C561.6,1053.5 562.0,1054.8 562.3,1055.2" fill="none" stroke="#000" stroke-width="2.8" stroke-dasharray="10.5 7.3" stroke-dashoffset="15.731720218556067" stroke-linejoin="round"/>
<path d="M100.2,1101.3 C101.8,1100.6 106.3,1098.4 109.5,1097.0 C112.7,1095.6 116.3,1094.5 119.5,1093.0 C122.7,1091.5 125.7,1089.6 128.8,1088.0 C131.9,1086.4 135.4,1085.3 138.1,1083.3 C140.8,1081.3 143.2,1078.7 145.2,1075.9 C147.1,1073.1 148.2,1069.7 149.8,1066.6 C151.4,1063.5 152.3,1059.8 154.5,1057.3 C156.7,1054.8 159.8,1052.9 162.9,1051.7 C166.0,1050.5 169.8,1050.4 173.1,1050.2 C176.4,1050.0 179.6,1050.3 183.0,1050.8 C186.4,1051.3 189.9,1052.2 193.3,1053.3 C196.7,1054.4 199.9,1055.9 203.2,1057.3 C206.5,1058.7 209.8,1060.3 213.1,1061.6 C216.3,1062.9 219.5,1063.8 222.7,1065.0 C225.8,1066.2 228.9,1067.2 232.0,1068.8 C235.1,1070.3 238.2,1072.4 241.0,1074.3 C243.8,1076.2 246.4,1078.1 249.1,1080.2 C251.8,1082.3 254.6,1084.7 257.4,1086.7 C260.2,1088.7 262.9,1090.2 265.8,1092.0 C268.7,1093.8 271.8,1095.7 274.5,1097.6 C277.2,1099.5 279.8,1101.0 282.1,1103.6 C284.4,1106.2 286.6,1110.1 288.2,1113.4 C289.8,1116.7 290.8,1119.9 291.9,1123.2 C293.0,1126.5 294.0,1130.2 295.1,1133.4 C296.2,1136.7 297.3,1139.5 298.4,1142.7 C299.5,1145.9 300.5,1149.1 301.6,1152.5 C302.7,1155.9 303.4,1157.8 304.9,1162.9 C306.4,1168.0 307.2,1172.4 310.5,1183.2 C313.8,1194.0 320.2,1213.2 324.6,1227.9 C329.0,1242.6 332.6,1256.8 336.7,1271.5 C340.8,1286.2 345.4,1301.0 349.4,1315.8 C353.4,1330.6 357.6,1346.9 360.9,1360.6 C364.2,1374.3 367.9,1391.8 369.3,1398.0" fill="none" stroke="#000" stroke-width="2.75" stroke-dasharray="0.3 10.05" stroke-dashoffset="-0.6" stroke-linecap="round" stroke-linejoin="round"/>
<path d="M369.7,1403.2 C369.7,1399.3 369.8,1387.9 369.9,1380.0 C370.0,1372.1 370.0,1364.0 370.2,1355.6 C370.4,1347.1 370.9,1338.7 371.2,1329.3 C371.5,1319.9 371.8,1308.6 372.1,1299.2 C372.4,1289.8 372.7,1280.7 373.1,1272.9 C373.5,1265.1 374.1,1259.7 374.6,1252.2 C375.1,1244.7 375.5,1236.2 375.9,1227.8 C376.3,1219.3 376.8,1209.7 377.2,1201.5 C377.6,1193.3 377.9,1187.1 378.3,1178.9 C378.7,1170.8 379.2,1159.9 379.6,1152.6 C380.0,1145.3 380.5,1140.6 380.8,1135.0 C381.1,1129.4 381.5,1125.7 381.7,1119.0 C381.9,1112.3 382.1,1101.4 382.2,1095.1 C382.3,1088.8 382.3,1085.0 382.5,1081.0 C382.7,1077.0 382.9,1074.5 383.3,1071.2 C383.7,1068.0 384.3,1064.6 385.0,1061.5 C385.7,1058.4 386.6,1054.7 387.7,1052.8 C388.8,1050.9 390.1,1050.2 391.5,1050.3 C392.9,1050.4 394.4,1051.7 395.8,1053.3 C397.2,1054.9 398.8,1056.8 400.2,1059.8 C401.6,1062.8 403.1,1067.7 404.5,1071.2 C405.9,1074.7 407.4,1077.5 408.8,1081.0 C410.2,1084.5 412.1,1088.4 413.2,1091.9 C414.3,1095.4 415.0,1100.5 415.4,1102.2" fill="none" stroke="#000" stroke-width="2.9" stroke-linejoin="round"/>
<path d="M488.8,1102.6 L491,1104.4" stroke="#aaa" stroke-width="1.2"/>
<text x="278.2" y="1483.4" font-family="Liberation Sans" font-weight="bold" font-size="18.6" fill="#111">(c)</text>
<text x="307.3" y="1483.4" font-family="Liberation Serif" font-size="19.4" fill="#111">strain curve</text>
</svg>
</body></html>
